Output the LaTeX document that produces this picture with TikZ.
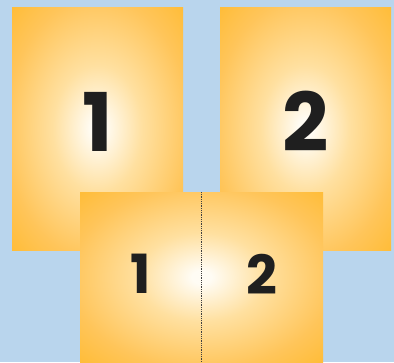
\documentclass[tikz,border=0pt]{standalone}
\usepackage{fontspec}
\setmainfont{Poppins}
\usepackage{tikz}
\usetikzlibrary{positioning}

\definecolor{sky}{HTML}{B9D5ED}
\definecolor{glowcore}{HTML}{FFFCF4}
\definecolor{glowlight}{HTML}{FFE0A0}
\definecolor{glowmid}{HTML}{FFC55A}
\definecolor{glowedge}{HTML}{FFB61E}
\pgfdeclareradialshading{pageglow}{\pgfpoint{0bp}{0bp}}{%
  color(0bp)=(glowcore); color(2bp)=(glowcore);
  color(13bp)=(glowlight); color(27bp)=(glowmid); color(42bp)=(glowedge);
  color(50bp)=(glowedge)}

\begin{document}
\begin{tikzpicture}[
  x=1pt, y=-1pt,
  page/.style={shading=pageglow, inner sep=0pt, outer sep=0pt},
  big/.style={font=\fontsize{81}{81}\selectfont\bfseries, text=black!88, inner sep=0pt},
  small/.style={font=\fontsize{54}{54}\selectfont\bfseries, text=black!88, inner sep=0pt},
  fold/.style={densely dotted, line width=0.8pt, black!75},
]
\fill[sky] (0,0) rectangle (394,362);
\useasboundingbox (0,0) rectangle (394,362);
% two single pages
\node[page, minimum width=171pt, minimum height=243pt] (page1) at (97.5,128.5) {};
\node[page, minimum width=171pt, minimum height=243pt] (page2) at (305.5,128.5) {};
\node[big] (num1) at ([yshift=7pt]page1.center) {1};
\node[big] (num2) at ([yshift=7pt]page2.center) {2};
% spread
\node[page, minimum width=243pt, minimum height=170pt] (spread) at (201.5,277) {};
\draw[fold] (spread.north) -- (spread.south);
\node[small] (left) at ([xshift=-60.5pt,yshift=3pt]spread.center) {1};
\node[small] (right) at ([xshift=60pt,yshift=3pt]spread.center) {2};
\end{tikzpicture}
\end{document}
